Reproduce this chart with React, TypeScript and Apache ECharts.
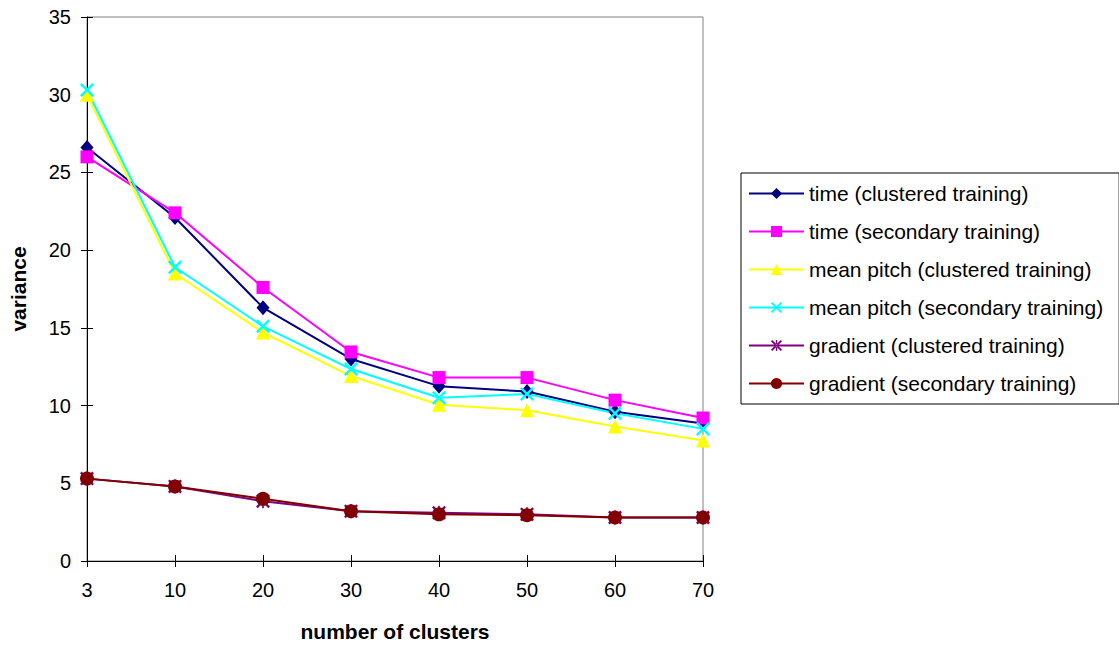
import React, { useEffect, useRef } from "react";
import * as echarts from "echarts";

const categories = ["3", "10", "20", "30", "40", "50", "60", "70"];
const timeClustered = [26.6, 22.1, 16.3, 13.0, 11.25, 10.9, 9.6, 8.85];
const timeSecondary = [26.0, 22.4, 17.6, 13.45, 11.8, 11.8, 10.35, 9.2];
const pitchClustered = [30.0, 18.5, 14.7, 11.9, 10.05, 9.7, 8.65, 7.75];
const pitchSecondary = [30.3, 18.9, 15.1, 12.35, 10.5, 10.75, 9.5, 8.5];
const gradClustered = [5.3, 4.8, 3.85, 3.2, 3.1, 3.0, 2.8, 2.8];
const gradSecondary = [5.3, 4.8, 4.0, 3.2, 3.0, 2.95, 2.8, 2.8];

const FONT = "'Liberation Sans', Arial, sans-serif";

const xSym =
  "path://M0,1.2 L1.2,0 L5,3.8 L8.8,0 L10,1.2 L6.2,5 L10,8.8 L8.8,10 L5,6.2 L1.2,10 L0,8.8 L3.8,5 Z";
const starSym =
  "path://M0,1.2 L1.2,0 L5,3.8 L8.8,0 L10,1.2 L6.2,5 L10,8.8 L8.8,10 L5,6.2 L1.2,10 L0,8.8 L3.8,5 Z M4.4,0 L4.4,10 L5.6,10 L5.6,0 Z";

export default function App() {
  const ref = useRef<HTMLDivElement>(null);
  useEffect(() => {
    const chart = echarts.init(ref.current!, undefined, { renderer: "svg" });
    const mk = (name: string, data: number[], color: string, symbol: string, size: number | number[]) => ({
      name,
      type: "line",
      data,
      symbol,
      symbolSize: size,
      showAllSymbol: true,
      lineStyle: { color, width: 2 },
      itemStyle: { color, borderWidth: 0 },
      emphasis: { disabled: true },
    });
    chart.setOption({
      animation: false,
      backgroundColor: "#fff",
      textStyle: { fontFamily: FONT },
      grid: {
        left: 86,
        right: 416,
        top: 17,
        bottom: 84,
        show: true,
        borderColor: "#808080",
        borderWidth: 1,
      },
      legend: {
        orient: "vertical",
        left: 741,
        top: 173,
        itemWidth: 55,
        itemHeight: 14,
        itemGap: 17,
        padding: [10, 16, 10, 7],
        borderColor: "#000",
        borderWidth: 1,
        textStyle: { fontSize: 21, color: "#000", fontFamily: FONT },
        data: [
          "time (clustered training)",
          "time (secondary training)",
          "mean pitch (clustered training)",
          "mean pitch (secondary training)",
          "gradient (clustered training)",
          "gradient (secondary training)",
        ],
      },
      xAxis: [
        {
          type: "category",
          data: categories,
          boundaryGap: false,
          name: "number of clusters",
          nameLocation: "middle",
          nameGap: 60,
          nameTextStyle: { fontSize: 21, fontWeight: "bold", color: "#000", fontFamily: FONT },
          axisLine: { lineStyle: { color: "#000", width: 1 } },
          axisTick: { show: true, length: 6, alignWithLabel: true, lineStyle: { color: "#000" } },
          axisLabel: { fontSize: 20, color: "#000", margin: 19, fontFamily: FONT },
          splitLine: { show: false },
        },
        {
          type: "category",
          data: categories,
          boundaryGap: false,
          position: "bottom",
          axisLine: { show: false },
          axisTick: { show: true, inside: true, length: 6, lineStyle: { color: "#000" } },
          axisLabel: { show: false },
          splitLine: { show: false },
        },
      ],
      yAxis: [
        {
          type: "value",
          min: 0,
          max: 35,
          interval: 5,
          name: "variance",
          nameLocation: "middle",
          nameGap: 58,
          nameTextStyle: { fontSize: 21, fontWeight: "bold", color: "#000", fontFamily: FONT },
          axisLine: { show: true, lineStyle: { color: "#000", width: 1 } },
          axisTick: { show: true, length: 6, lineStyle: { color: "#000" } },
          axisLabel: { fontSize: 20, color: "#000", margin: 16, fontFamily: FONT },
          splitLine: { show: false },
        },
        {
          type: "value",
          min: 0,
          max: 35,
          interval: 5,
          position: "left",
          axisLine: { show: false },
          axisTick: { show: true, inside: true, length: 6, lineStyle: { color: "#000" } },
          axisLabel: { show: false },
          splitLine: { show: false },
        },
      ],
      series: [
        mk("time (clustered training)", timeClustered, "#000080", "diamond", [13, 15]),
        mk("time (secondary training)", timeSecondary, "#FF00FF", "rect", 13),
        mk("mean pitch (clustered training)", pitchClustered, "#FFFF00", "triangle", 14),
        mk("mean pitch (secondary training)", pitchSecondary, "#00FFFF", xSym, 14),
        mk("gradient (clustered training)", gradClustered, "#800080", starSym, 14),
        mk("gradient (secondary training)", gradSecondary, "#800000", "circle", 14),
      ],
    });
    return () => chart.dispose();
  }, []);
  return <div ref={ref} style={{ position: "fixed", left: 0, top: 0, width: 1119, height: 647 }} />;
}
